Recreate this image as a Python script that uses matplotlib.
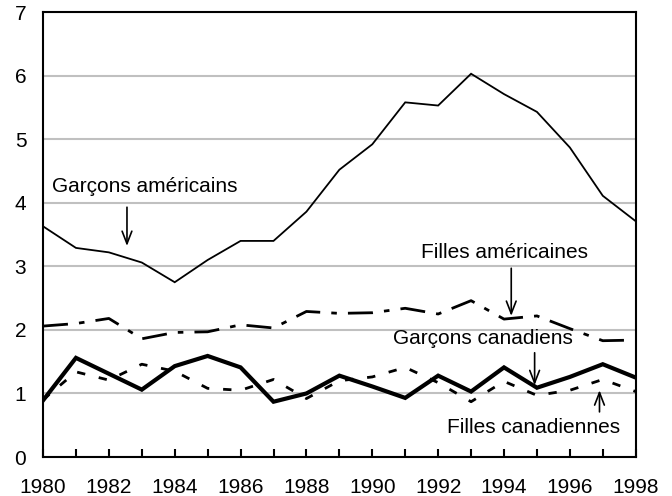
import matplotlib
matplotlib.use("Agg")
import matplotlib.pyplot as plt

years = list(range(1980, 1999))
garcons_americains = [3.63, 3.29, 3.22, 3.06, 2.75, 3.10, 3.40, 3.40, 3.86, 4.52,
                      4.92, 5.58, 5.53, 6.03, 5.71, 5.43, 4.87, 4.11, 3.71]
filles_americaines = [2.06, 2.10, 2.18, 1.86, 1.96, 1.97, 2.08, 2.03, 2.29, 2.26,
                      2.27, 2.34, 2.25, 2.46, 2.17, 2.22, 2.02, 1.83, 1.84]
garcons_canadiens = [0.89, 1.56, 1.31, 1.06, 1.43, 1.59, 1.41, 0.87, 1.00, 1.28,
                     1.11, 0.93, 1.28, 1.03, 1.41, 1.09, 1.26, 1.46, 1.25]
filles_canadiennes = [0.90, 1.34, 1.21, 1.46, 1.35, 1.08, 1.05, 1.22, 0.92, 1.20,
                      1.26, 1.41, 1.17, 0.87, 1.19, 0.97, 1.05, 1.22, 1.03]

xtick_labels = [str(y) if y % 2 == 0 else '' for y in years]
ytick_labels = [str(v) for v in range(0, 8)]

plt.rcParams['font.family'] = ['Liberation Sans', 'DejaVu Sans']
FS = 15

fig = plt.figure(figsize=(6.72, 4.96), dpi=100)
ax = fig.add_axes([0.064, 0.0786, 0.882, 0.897])

ax.plot(years, garcons_americains, color='black', lw=1.3, solid_joinstyle='miter')
ax.plot(years, filles_americaines, color='black', lw=2.0,
        dashes=(9, 4, 2, 4))
ax.plot(years, garcons_canadiens, color='black', lw=3.0, solid_joinstyle='miter')
ax.plot(years, filles_canadiennes, color='black', lw=2.0, dashes=(3, 5))

ax.set_xlim(1980, 1998)
ax.set_ylim(0, 7)
ax.set_xticks(years)
ax.set_xticklabels(xtick_labels, fontsize=FS)
ax.set_yticks(range(0, 8))
ax.set_yticklabels(ytick_labels, fontsize=FS)
ax.tick_params(axis='x', direction='in', length=6, width=1.5, pad=15)
ax.tick_params(axis='y', length=0, pad=12)
ax.yaxis.grid(True, color='#c0c0c0', lw=1.5)
ax.set_axisbelow(True)
for s in ax.spines.values():
    s.set_linewidth(1.5)
    s.set_color('black')

arrow = dict(arrowstyle='->,head_length=0.9,head_width=0.35', color='black', lw=1.2,
             shrinkA=0, shrinkB=0)

ax.text(1983.1, 4.25, 'Garçons américains', fontsize=FS, ha='center', va='center')
ax.annotate('', xy=(1982.55, 3.32), xytext=(1982.55, 3.93), arrowprops=arrow)

ax.text(1994.0, 3.22, 'Filles américaines', fontsize=FS, ha='center', va='center')
ax.annotate('', xy=(1994.22, 2.22), xytext=(1994.22, 2.97), arrowprops=arrow)

ax.text(1993.35, 1.86, 'Garçons canadiens', fontsize=FS, ha='center', va='center')
ax.annotate('', xy=(1994.93, 1.13), xytext=(1994.93, 1.64), arrowprops=arrow)

ax.text(1994.9, 0.47, 'Filles canadiennes', fontsize=FS, ha='center', va='center')
ax.annotate('', xy=(1996.9, 1.05), xytext=(1996.9, 0.71), arrowprops=arrow)

fig.savefig('out.png', dpi=100)
